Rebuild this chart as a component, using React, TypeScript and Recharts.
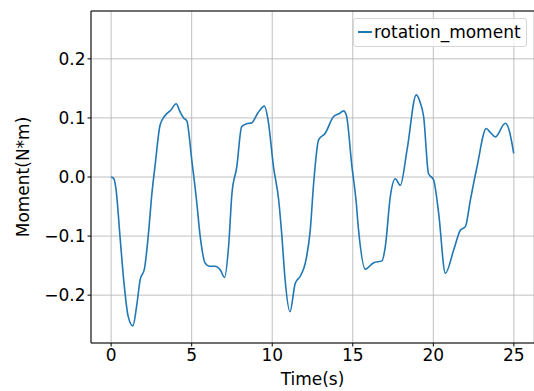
import React from "react";
import {
  LineChart,
  Line,
  XAxis,
  YAxis,
  CartesianGrid,
  ReferenceLine,
} from "recharts";

// time (s) and moment (N*m)
const times = [
  0, 0.15, 0.3, 0.56, 0.8, 1.05, 1.35, 1.6, 1.8, 2.07, 2.32, 2.53, 2.73, 3.04,
  3.35, 3.7, 4.04, 4.25, 4.5, 4.7, 5.0, 5.3, 5.53, 5.84, 6.1, 6.46, 6.77, 7.04,
  7.29, 7.5, 7.8, 8.1, 8.4, 8.74, 9.1, 9.52, 9.75, 10.08, 10.4, 10.6, 10.8,
  11.1, 11.43, 11.74, 12.05, 12.36, 12.57, 12.88, 13.29, 13.8, 14.2, 14.43,
  14.6, 14.95, 15.2, 15.36, 15.78, 16.3, 16.81, 17.02, 17.33, 17.64, 17.95,
  18.37, 18.94, 19.2, 19.4, 19.7, 20.02, 20.33, 20.75, 21.26, 21.68, 21.99,
  22.3, 22.71, 23.29, 23.55, 23.85, 24.47, 24.7, 24.99,
];
const rotationMoment = [
  0.0, -0.002, -0.02, -0.104, -0.18, -0.235, -0.252, -0.215, -0.174, -0.155,
  -0.095, -0.028, 0.02, 0.088, 0.104, 0.113, 0.124, 0.112, 0.1, 0.095, 0.03,
  -0.039, -0.101, -0.146, -0.151, -0.151, -0.157, -0.17, -0.118, -0.028, 0.017,
  0.085, 0.09, 0.092, 0.108, 0.12, 0.095, 0.017, -0.039, -0.1, -0.174, -0.228,
  -0.18, -0.168, -0.146, -0.09, -0.011, 0.063, 0.074, 0.102, 0.108, 0.112,
  0.105, 0.017, -0.039, -0.09, -0.156, -0.145, -0.142, -0.118, -0.033, -0.003,
  -0.014, 0.046, 0.139, 0.125, 0.102, 0.006, -0.005, -0.061, -0.163, -0.124,
  -0.09, -0.084, -0.039, 0.017, 0.082, 0.075, 0.068, 0.091, 0.08, 0.04,
];
const xTicks = [0, 5, 10, 15, 20, 25];
const yTicks = [-0.2, -0.1, 0, 0.1, 0.2];

const data = times.map((t, i) => ({ t, rotation_moment: rotationMoment[i] }));

const FONT = "DejaVu Sans, sans-serif";
const BLUE = "#1f77b4";
const Y_MAX = 0.281;
const FS = 17;

const fmtY = (v: number) => v.toFixed(1).replace("-", "\u2212");

const LegendBox = () => (
  <div
    style={{
      position: "absolute",
      left: 353,
      top: 18,
      border: "1px solid #d6d6d6",
      borderRadius: 3,
      background: "rgba(255,255,255,0.8)",
      padding: "2px 5px 3px 4px",
      display: "flex",
      alignItems: "center",
      fontFamily: FONT,
      fontSize: FS,
      color: "#000",
      lineHeight: "22px",
    }}
  >
    <span
      style={{
        display: "inline-block",
        width: 14,
        height: 2,
        background: BLUE,
        marginRight: 2,
      }}
    />
    rotation_moment
  </div>
);

export default function App() {
  return (
    <div style={{ position: "absolute", left: 0, top: 0, background: "#fff" }}>
      <LineChart
        width={534}
        height={391}
        data={data}
        margin={{ top: 11, right: 0, bottom: 0, left: 0 }}
      >
        <CartesianGrid stroke="#b0b0b0" strokeWidth={0.8} />
        <XAxis
          dataKey="t"
          type="number"
          domain={[-1.25, 26.25]}
          ticks={xTicks}
          allowDataOverflow
          height={48}
          stroke="#000"
          tickSize={3.5}
          tick={{ fill: "#000", fontSize: FS, fontFamily: FONT }}
          label={{
            value: "Time(s)",
            position: "insideBottom",
            offset: 6,
            fill: "#000",
            fontSize: FS,
            fontFamily: FONT,
          }}
        />
        <YAxis
          type="number"
          domain={[-Y_MAX, Y_MAX]}
          ticks={yTicks}
          allowDataOverflow
          width={91}
          stroke="#000"
          tickSize={3.5}
          tickFormatter={fmtY}
          tick={{ fill: "#000", fontSize: FS, fontFamily: FONT }}
          label={{
            value: "Moment(N*m)",
            angle: -90,
            position: "insideLeft",
            offset: 23,
            style: { textAnchor: "middle" },
            fill: "#000",
            fontSize: FS,
            fontFamily: FONT,
          }}
        />
        <ReferenceLine y={Y_MAX} stroke="#000" strokeWidth={1} ifOverflow="visible" />
        <Line
          type="monotone"
          dataKey="rotation_moment"
          stroke={BLUE}
          strokeWidth={1.6}
          dot={false}
          isAnimationActive={false}
        />
      </LineChart>
      <LegendBox />
    </div>
  );
}
